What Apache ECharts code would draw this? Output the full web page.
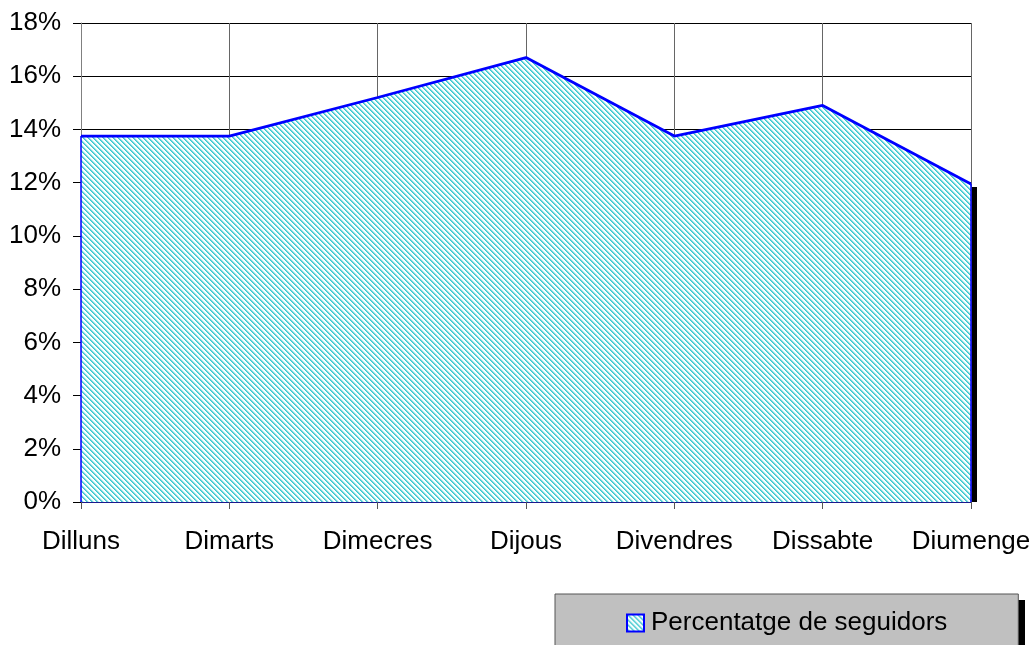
<!DOCTYPE html>
<html>
<head>
<meta charset="utf-8">
<script src="https://cdn.jsdelivr.net/npm/echarts@6/dist/echarts.min.js"></script>
<style>
  html, body { margin: 0; padding: 0; background: #fff; }
  #chart { width: 1036px; height: 645px; }
</style>
</head>
<body>
<div id="chart"></div>
<script>
// dies de la setmana i percentatge de seguidors
var dies = ['Dilluns', 'Dimarts', 'Dimecres', 'Dijous', 'Divendres', 'Dissabte', 'Diumenge'];
var percentatges = [13.75, 13.75, 15.2, 16.7, 13.75, 14.9, 11.95];
var nomSerie = 'Percentatge de seguidors';
var yMin = 0, yMax = 18, yPas = 2;

// trama de ratlles diagonals (com el farciment de l'Excel)
function crearTrama() {
    var p = 5;
    var colors = ['#3cc8d0', '#6fd6db', '#d2f2f4', null, null];
    var c = document.createElement('canvas');
    c.width = p * 2;
    c.height = p * 2;
    var ctx = c.getContext('2d');
    ctx.fillStyle = '#ffffff';
    ctx.fillRect(0, 0, c.width, c.height);
    for (var y = 0; y < c.height; y++) {
        for (var x = 0; x < c.width; x++) {
            var col = colors[((x - y) % p + p) % p];
            if (col) {
                ctx.fillStyle = col;
                ctx.fillRect(x, y, 1, 1);
            }
        }
    }
    return { image: c, repeat: 'repeat' };
}

var trama = crearTrama();
var myChart = echarts.init(document.getElementById('chart'));
var font = 'Liberation Sans, Arial, sans-serif';
var darrer = dies.length - 1;

var option = {
    animation: false,
    backgroundColor: '#ffffff',
    grid: {
        left: 81,
        right: 65,
        top: 23,
        bottom: 143
    },
    xAxis: {
        type: 'category',
        data: dies,
        boundaryGap: false,
        axisLine: { lineStyle: { color: '#1a1a8c', width: 1 } },
        axisTick: { show: true, interval: 0, length: 7, lineStyle: { color: '#555' } },
        axisLabel: { interval: 0, hideOverlap: false, color: '#000', fontFamily: font, fontSize: 26, margin: 27 },
        splitLine: { show: true, interval: 0, lineStyle: { color: '#666', width: 1 } }
    },
    yAxis: {
        type: 'value',
        min: yMin,
        max: yMax,
        interval: yPas,
        axisLine: { show: true, lineStyle: { color: '#808080' } },
        axisTick: { show: true, length: 8, lineStyle: { color: '#000' } },
        axisLabel: {
            color: '#000', fontFamily: font, fontSize: 26, margin: 20,
            formatter: '{value}%'
        },
        splitLine: { show: true, lineStyle: { color: '#000', width: 1 } }
    },
    legend: {
        data: [nomSerie],
        left: 555,
        top: 594,
        icon: 'rect',
        itemWidth: 17,
        itemHeight: 17,
        itemGap: 0,
        padding: [16, 71, 30, 71],
        backgroundColor: '#c0c0c0',
        borderColor: '#555',
        borderWidth: 1,
        z: 5,
        itemStyle: { color: trama, borderColor: '#0000ff', borderWidth: 2 },
        textStyle: { color: '#000', fontFamily: font, fontSize: 26, padding: [0, 0, 0, 2] }
    },
    series: [{
        name: nomSerie,
        type: 'line',
        data: percentatges,
        clip: false,
        showSymbol: false,
        symbol: 'none',
        lineStyle: { color: '#0000ff', width: 2.8 },
        itemStyle: { color: '#0000ff' },
        areaStyle: { color: trama, opacity: 1 },
        markLine: {
            silent: true,
            symbol: 'none',
            label: { show: false },
            lineStyle: { color: '#0000ff', width: 1.5, type: 'solid' },
            data: [
                [{ coord: [dies[0], 0] }, { coord: [dies[0], percentatges[0]] }],
                [{ coord: [dies[darrer], 0] }, { coord: [dies[darrer], percentatges[darrer]] }]
            ]
        }
    }]
};

myChart.setOption(option);

// ombres negres (àrea i llegenda), posades a partir de l'escala de l'eix
var dalt = myChart.convertToPixel({ seriesIndex: 0 }, [darrer, percentatges[darrer]]);
var baix = myChart.convertToPixel({ seriesIndex: 0 }, [darrer, 0]);
myChart.setOption({
    graphic: [{
        type: 'rect',
        z: 3,
        shape: { x: dalt[0] + 1, y: dalt[1] + 3, width: 5, height: baix[1] - dalt[1] - 3 },
        style: { fill: '#000' },
        silent: true
    }, {
        type: 'rect',
        z: 1,
        shape: { x: 561, y: 600, width: 464, height: 60 },
        style: { fill: '#000' },
        silent: true
    }]
});
</script>
</body>
</html>
